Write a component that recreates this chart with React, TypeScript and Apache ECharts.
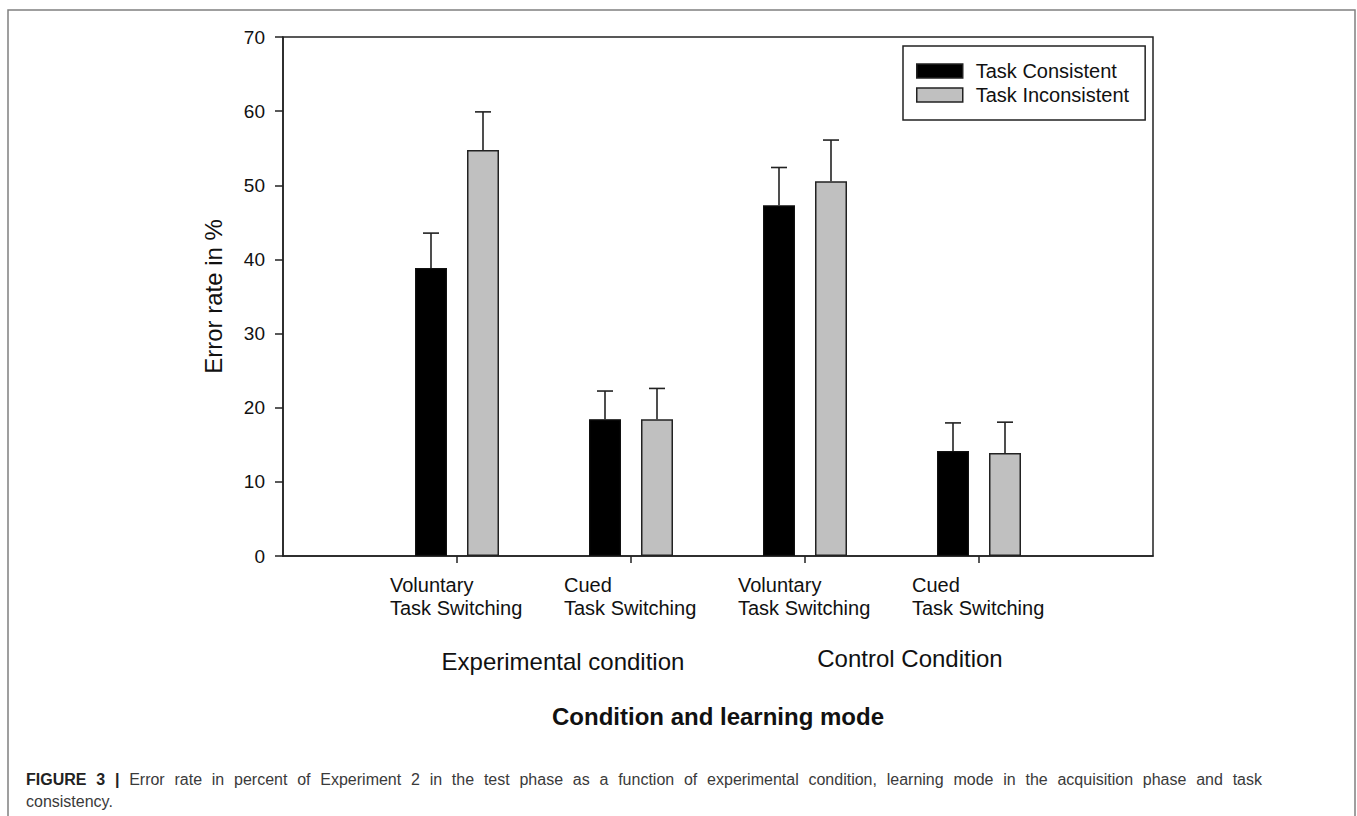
import React, { useEffect, useRef } from "react";
import * as echarts from "echarts";

// ---- Data ----
const conditionKeys = [
  "Experimental / Voluntary",
  "Experimental / Cued",
  "Control / Voluntary",
  "Control / Cued",
];
const tickLabels = [
  ["Voluntary", "Task Switching"],
  ["Cued", "Task Switching"],
  ["Voluntary", "Task Switching"],
  ["Cued", "Task Switching"],
];
const consistentMeans = [38.85, 18.45, 47.3, 14.15];
const consistentUpper = [43.55, 22.25, 52.4, 17.95];
const inconsistentMeans = [54.75, 18.45, 50.55, 13.9];
const inconsistentUpper = [59.9, 22.6, 56.1, 18.05];
const seriesNames = ["Task Consistent", "Task Inconsistent"];
const groupLabels = ["Experimental condition", "Control Condition"];
const yTicks = { min: 0, max: 70, interval: 10 };
const yAxisTitle = "Error rate in %";
const xAxisTitle = "Condition and learning mode";
const captionBold = "FIGURE 3 |";
const captionLine1 =
  "Error rate in percent of Experiment 2 in the test phase as a function of experimental condition, learning mode in the acquisition phase and task";
const captionLine2 = "consistency.";

const FONT = "'Liberation Sans', Arial, Helvetica, sans-serif";
const BAR_W = 32;
const OFFSET = 26;
const CAP_SIZE = 16;
const CAP_LEFT = 26;
const CAP_RIGHT = 1262;

function justifiedCaption(): any[] {
  const words = [
    ...captionBold.split(" ").map((t) => ({ t, b: true })),
    ...captionLine1.split(" ").map((t) => ({ t, b: false })),
  ];
  const canvas = document.createElement("canvas");
  const ctx = canvas.getContext("2d");
  const widths = words.map((w) => {
    if (!ctx) return w.t.length * CAP_SIZE * 0.5;
    ctx.font = `${w.b ? "bold " : ""}${CAP_SIZE}px 'Liberation Sans', Arial, sans-serif`;
    return ctx.measureText(w.t).width;
  });
  const total = widths.reduce((a, b) => a + b, 0);
  const gap = (CAP_RIGHT - CAP_LEFT - total) / (words.length - 1);
  let x = CAP_LEFT;
  const els: any[] = [];
  words.forEach((w, i) => {
    els.push({
      type: "text",
      x,
      y: 779,
      silent: true,
      style: {
        text: w.t,
        fontFamily: FONT,
        fontSize: CAP_SIZE,
        fontWeight: w.b ? "bold" : "normal",
        fill: w.b ? "#222" : "#3a3a3a",
        textAlign: "left",
        textVerticalAlign: "middle",
      },
    });
    x += widths[i] + gap;
  });
  els.push({
    type: "text",
    x: CAP_LEFT,
    y: 801,
    silent: true,
    style: {
      text: captionLine2,
      fontFamily: FONT,
      fontSize: CAP_SIZE,
      fill: "#3a3a3a",
      textAlign: "left",
      textVerticalAlign: "middle",
    },
  });
  return els;
}

export default function App() {
  const ref = useRef<HTMLDivElement>(null);

  useEffect(() => {
    if (!ref.current) return;
    const chart = echarts.init(ref.current, undefined, { renderer: "svg" });

    const categories = ["start", ...conditionKeys, "end"];
    const padData = (arr: number[]) => ["-", ...arr, "-"];

    const errorSeries = (means: number[], upper: number[], dx: number) => ({
      type: "custom",
      silent: true,
      z: 5,
      data: means.map((m, i) => [i + 1, m, upper[i]]),
      renderItem: (params: any, api: any) => {
        const idx = api.value(0);
        const p0 = api.coord([idx, api.value(1)]);
        const p1 = api.coord([idx, api.value(2)]);
        const x = p0[0] + dx;
        const style = { stroke: "#222", lineWidth: 1.6 };
        return {
          type: "group",
          children: [
            { type: "line", shape: { x1: x, y1: p0[1], x2: x, y2: p1[1] }, style },
            { type: "line", shape: { x1: x - 8, y1: p1[1], x2: x + 8, y2: p1[1] }, style },
          ],
        };
      },
    });

    const option: any = {
      animation: false,
      backgroundColor: "#fff",
      textStyle: { fontFamily: FONT },
      grid: {
        left: 283,
        right: 204,
        top: 37,
        bottom: 260,
        show: true,
        borderColor: "#222",
        borderWidth: 1.5,
        backgroundColor: "transparent",
      },
      legend: {
        orient: "vertical",
        left: 903,
        top: 46,
        itemWidth: 46,
        itemHeight: 14,
        itemGap: 4,
        padding: [15, 16, 15, 13],
        borderColor: "#222",
        borderWidth: 1.5,
        backgroundColor: "#fff",
        textStyle: {
          fontFamily: FONT,
          fontSize: 20,
          color: "#111",
          lineHeight: 20,
          padding: [0, 0, 0, 8],
        },
        data: [
          { name: seriesNames[0], icon: "rect", itemStyle: { color: "#000", borderColor: "#222", borderWidth: 1.5 } },
          { name: seriesNames[1], icon: "rect", itemStyle: { color: "#c0c0c0", borderColor: "#222", borderWidth: 1.5 } },
        ],
      },
      xAxis: {
        type: "category",
        data: categories,
        boundaryGap: false,
        name: xAxisTitle,
        nameLocation: "middle",
        nameGap: 148,
        nameTextStyle: { fontFamily: FONT, fontSize: 24, fontWeight: "bold", color: "#111" },
        axisLine: { lineStyle: { color: "#222", width: 1.5 } },
        axisTick: {
          length: 7,
          lineStyle: { color: "#222", width: 1.5 },
          interval: (index: number) => index >= 1 && index <= conditionKeys.length,
        },
        axisLabel: {
          interval: (index: number) => index >= 1 && index <= conditionKeys.length,
          margin: 17,
          formatter: (_v: string, index: number) => {
            const t = tickLabels[index - 1];
            if (!t) return "";
            return t.map((s) => `{a|${s}}`).join("\n");
          },
          rich: {
            a: {
              fontFamily: FONT,
              fontSize: 20,
              color: "#111",
              width: 134,
              align: "left",
              lineHeight: 23,
            },
          },
        },
        splitLine: { show: false },
      },
      yAxis: {
        type: "value",
        min: yTicks.min,
        max: yTicks.max,
        interval: yTicks.interval,
        name: yAxisTitle,
        nameLocation: "middle",
        nameGap: 58,
        nameTextStyle: { fontFamily: FONT, fontSize: 24, color: "#111" },
        axisLine: { show: true, lineStyle: { color: "#222", width: 1.5 } },
        axisTick: { show: true, length: 8, lineStyle: { color: "#222", width: 1.5 } },
        axisLabel: { fontFamily: FONT, fontSize: 19, color: "#111", margin: 18 },
        splitLine: { show: false },
      },
      series: [
        {
          name: seriesNames[0],
          type: "bar",
          data: padData(consistentMeans),
          barWidth: BAR_W,
          barGap: "62.5%",
          itemStyle: { color: "#000", borderColor: "#111", borderWidth: 1.2 },
        },
        {
          name: seriesNames[1],
          type: "bar",
          data: padData(inconsistentMeans),
          barWidth: BAR_W,
          barGap: "62.5%",
          itemStyle: { color: "#c0c0c0", borderColor: "#222", borderWidth: 1.5 },
        },
        errorSeries(consistentMeans, consistentUpper, -OFFSET),
        errorSeries(inconsistentMeans, inconsistentUpper, OFFSET),
      ],
      graphic: [
        {
          type: "rect",
          silent: true,
          shape: { x: 8, y: 10, width: 1347, height: 900 },
          style: { fill: "none", stroke: "#808080", lineWidth: 1.5 },
        },
        {
          type: "text",
          x: 563,
          y: 661,
          style: {
            text: groupLabels[0],
            fontFamily: FONT,
            fontSize: 24,
            fill: "#111",
            textAlign: "center",
            textVerticalAlign: "middle",
          },
        },
        {
          type: "text",
          x: 910,
          y: 658,
          style: {
            text: groupLabels[1],
            fontFamily: FONT,
            fontSize: 24,
            fill: "#111",
            textAlign: "center",
            textVerticalAlign: "middle",
          },
        },
        ...justifiedCaption(),
      ],
    };

    chart.setOption(option);
    return () => chart.dispose();
  }, []);

  return (
    <div
      ref={ref}
      style={{ position: "fixed", left: 0, top: 0, width: 1357, height: 816 }}
    />
  );
}
